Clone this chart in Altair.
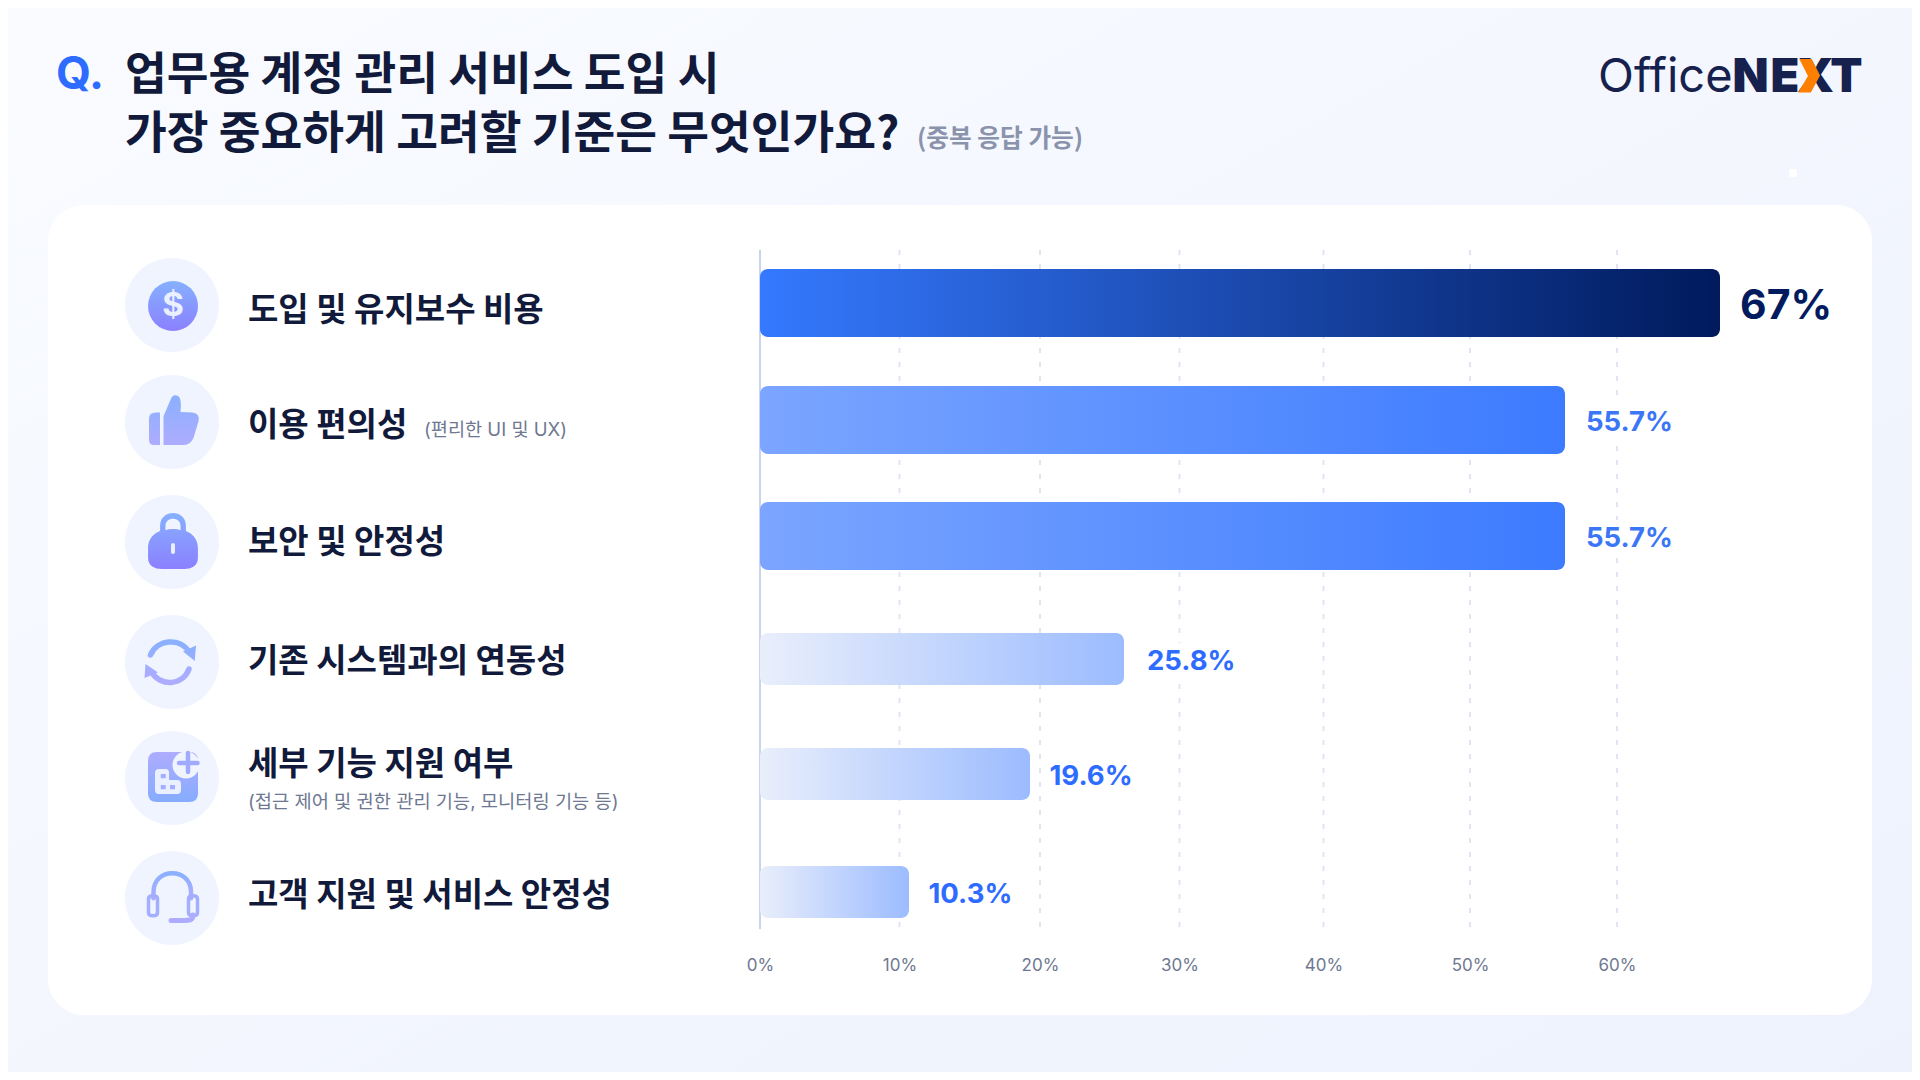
import altair as alt
import pandas as pd

# ---- values ----
categories = ["도입 및 유지보수 비용", "이용 편의성", "보안 및 안정성", "기존 시스템과의 연동성", "세부 기능 지원 여부", "고객 지원 및 서비스 안정성"]
values = [67, 55.7, 55.7, 25.8, 19.6, 10.3]
value_labels = ["67%", "55.7%", "55.7%", "25.8%", "19.6%", "10.3%"]
ticks = [0, 10, 20, 30, 40, 50, 60]

KR = "Noto Sans CJK KR"
LAT = "Inter, Noto Sans CJK KR"
NAVY = "#111A3A"
W, H = 1904, 1064
PX, PY = 760, 250          # page position of the plot origin
PW, PH = 960, 679

df = pd.DataFrame({"cat": categories, "value": values, "label": value_labels, "rank": range(1, 7)})
tick_df = pd.DataFrame({"tick": ticks})
ONE = alt.Data(values=[{"a": 1}])

x_scale = alt.Scale(
    domain=[0, 10, 10.3, 19.6, 20, 25.8, 30, 40, 50, 55.7, 60, 67],
    range=[0, 139.5, 149, 270, 280, 364, 419.5, 563.5, 710, 805, 857, 960],
    nice=False, zero=False, padding=0,
)
y_scale = alt.Scale(domain=[1, 2, 3, 4, 5, 6], range=[53, 170, 286, 409, 524, 642], nice=False, zero=False, padding=0)
x_axis = alt.Axis(
    values=ticks, grid=False, domain=False, ticks=False, zindex=1, labelPadding=28, title=None,
    labelFont="Inter", labelFontSize=17, labelColor="#6F7891", labelExpr="datum.value + '%'",
    labelOverlap=False, labelFlush=False,
)


def grad(c1, c2, horiz=False, diag=False):
    return alt.LinearGradient(
        gradient="linear",
        stops=[alt.GradientStop(offset=0, color=c1), alt.GradientStop(offset=1, color=c2)],
        x1=0, y1=0, x2=1 if (horiz or diag) else 0, y2=0 if horiz else 1,
    )


def text(s, x, y, size, color, weight="normal", font=KR, align="left", **kw):
    return alt.Chart(ONE).mark_text(
        text=s, font=font, fontSize=size, fontWeight=weight, color=color,
        align=align, baseline="middle", **kw
    ).encode(x=alt.value(x - PX), y=alt.value(y - PY))


def rect(x0, y0, x1, y1, fill, r=0):
    return alt.Chart(ONE).mark_rect(color=fill, cornerRadius=r).encode(
        x=alt.value(x0 - PX), x2=alt.value(x1 - PX), y=alt.value(y0 - PY), y2=alt.value(y1 - PY))


def disc(cx, cy, d, fill):
    return alt.Chart(ONE).mark_circle(color=fill, size=d * d, opacity=1).encode(
        x=alt.value(cx - PX), y=alt.value(cy - PY))


def solid(path, cx, cy, unit, fill):
    return alt.Chart(ONE).mark_point(shape=path, size=(2 * unit) ** 2, filled=True, fill=fill, strokeWidth=0, opacity=1).encode(
        x=alt.value(cx - PX), y=alt.value(cy - PY))


def line(path, cx, cy, unit, stroke, w):
    return alt.Chart(ONE).mark_point(shape=path, size=(2 * unit) ** 2, filled=False, stroke=stroke, strokeWidth=w,
                                     strokeCap="round", opacity=1).encode(
        x=alt.value(cx - PX), y=alt.value(cy - PY))


CIRC = "#EFF4FF"
G1 = grad("#86B0FF", "#8B80FF")
G2 = grad("#8AB0FF", "#AEACFF")
G3 = grad("#AEACFF", "#86ACFF")
LIGHT = "#EAF0FF"

bg = [
    rect(8, 8, 1912, 1072, grad("#F9FBFF", "#EEF2FD", diag=True)),
    rect(48, 205, 1872, 1015, "#FFFFFF", 36),
    rect(1789, 169, 1797, 177, "#FFFFFF", 2),
]

head = [
    text("Q.", 56, 75, 45, "#2E6BFF", "bold", LAT),
    text("업무용 계정 관리 서비스 도입 시", 125, 76, 45.4, NAVY, "bold"),
    text("가장 중요하게 고려할 기준은 무엇인가요?", 125, 135, 45.4, NAVY, "bold"),
    text("(중복 응답 가능)", 917, 140, 24.7, "#8A93AB", "bold"),
]

logo = [
    text("Office", 1598, 78, 47, "#16214D", "normal", "Inter"),
    text("N", 1750.5, 78, 47, "#16214D", 900, "Inter", align="center"),
    text("E", 1785, 78, 47, "#16214D", 900, "Inter", align="center"),
    text("X", 1815.5, 78, 47, "#16214D", 900, "Inter", align="center"),
    text("T", 1846.5, 78, 47, "#16214D", 900, "Inter", align="center"),
    solid("M-.57 -1 L.16 -1 L.65 -.03 L.11 .97 L-.63 .97 L-.06 0 Z", 1809, 76, 17, "#FF8000"),
]

circles = [disc(172, cy, 94, CIRC) for cy in [305, 422, 542, 662, 778, 898]]

thumb = ("M-1 -.05 Q-1 -.3 -.72 -.3 L-.56 -.3 L-.56 1 L-.8 1 Q-1 1 -1 .8 Z "
         "M-.42 -.15 L-.1 -.9 Q0 -1.06 .18 -.95 Q.32 -.85 .26 -.32 L.74 -.3 Q1.05 -.25 .98 .05 "
         "L.78 .72 Q.65 1 .4 1 L-.42 1 Z")
lock = ("M-.46 -.3 L-.46 -.55 C-.46 -1.15 .46 -1.15 .46 -.55 L.46 -.3 Z "
        "M0 -.45 C.5 -.45 .89 -.2 .89 .25 L.89 .6 C.89 .9 .65 1 .4 1 L-.4 1 C-.65 1 -.89 .9 -.89 .6 L-.89 .25 C-.89 -.2 -.5 -.45 0 -.45 Z")
lock_hole = "M-.27 -.38 C-.15 -.45 .15 -.45 .27 -.38 L.27 -.55 C.27 -.88 -.27 -.88 -.27 -.55 Z"
refresh = "M-.8 -.28 C-.55 -.9 .4 -1.0 .74 -.4 M.74 .28 C.5 .95 -.4 1.0 -.76 .4"
refresh_tips = "M.5 -.42 L1.02 -.66 L.97 -.04 Z M-.5 .42 L-1.04 .64 L-1.0 .08 Z"
square = "M-.65 -1 L.65 -1 Q1 -1 1 -.65 L1 .65 Q1 1 .65 1 L-.65 1 Q-1 1 -1 .65 L-1 -.65 Q-1 -1 -.65 -1 Z"
blocks = ("M-.56 -.32 L-.3 -.32 Q-.16 -.32 -.16 -.18 L-.16 .12 L.16 .12 Q.32 .12 .32 .28 L.32 .52 "
          "Q.32 .68 .16 .68 L-.56 .68 Q-.72 .68 -.72 .52 L-.72 -.16 Q-.72 -.32 -.56 -.32 Z")
cells = "M-.49 -.12 h.2 v.17 h-.2 Z M-.49 .32 h.2 v.17 h-.2 Z M-.12 .32 h.2 v.17 h-.2 Z"
plus = "M.6 -.96 L.6 -.2 M.24 -.56 L.98 -.56"
head_arc = "M-.78 .05 L-.78 -.2 C-.78 -1.2 .72 -1.2 .72 -.2 L.72 .05"
head_cups = "M-.98 .08 Q-.98 -.05 -.8 -.05 Q-.62 -.05 -.62 .08 L-.62 .62 Q-.62 .75 -.8 .75 Q-.98 .75 -.98 .62 Z M.62 .08 Q.62 -.05 .8 -.05 Q.98 -.05 .98 .08 L.98 .62 Q.98 .75 .8 .75 Q.62 .75 .62 .62 Z"
head_mic = "M.8 .72 C.8 .96 .6 .94 .35 .94 L-.08 .94"

icons = [
    disc(173, 306, 50, G1),
    text("$", 173, 306, 33, LIGHT, "bold", "Inter", align="center"),
    solid(thumb, 174, 420, 25, G2),
    solid(lock, 173, 541, 28, G1),
    solid(lock_hole, 173, 541, 28, CIRC),
    rect(171, 543, 175, 554, LIGHT, 2),
    line(refresh, 170.5, 662, 25, G2, 5.5),
    solid(refresh_tips, 170.5, 662, 25, G2),
    solid(square, 173, 777, 25, G3),
    disc(186, 765, 27, CIRC),
    line(plus, 173, 777, 25, "#A0ABFF", 4.5),
    solid(blocks, 173, 777, 25, LIGHT),
    solid(cells, 173, 777, 25, "#A3AEFF"),
    line(head_arc, 173, 897, 25, G2, 4.5),
    line(head_cups, 173, 897, 25, "#A3AEFF", 3.5),
    line(head_mic, 173, 897, 25, "#AEACFF", 5),
]

CAT_Y = [311, 426, 543, 662, 765, 896]
cat_text = [text(c, 248, y, 33, NAVY, "bold") for c, y in zip(categories, CAT_Y)]
cat_text += [
    text("(편리한 UI 및 UX)", 424, 430, 18.6, "#6E7891", "normal", LAT),
    text("(접근 제어 및 권한 관리 기능, 모니터링 기능 등)", 248, 802, 18.7, "#6E7891", "normal", LAT),
]

grid = alt.Chart(tick_df).mark_rule(color="#DFE5F3", strokeWidth=2, strokeDash=[5, 9]).encode(
    x=alt.X("tick:Q", scale=x_scale, axis=x_axis),
    y=alt.value(0), y2=alt.value(PH),
)
axis_line = alt.Chart(ONE).mark_rule(color="#C9D3EA", strokeWidth=2).encode(
    x=alt.value(0), y=alt.value(0), y2=alt.value(PH))


def bars(rows, height, c1, c2):
    return alt.Chart(df.iloc[rows]).mark_bar(
        orient="horizontal", height=height, cornerRadius=8, fill=grad(c1, c2, horiz=True)
    ).encode(
        x=alt.X("value:Q", scale=x_scale, axis=x_axis, stack=None),
        y=alt.Y("rank:Q", scale=y_scale, axis=None),
    )


bar_layers = [
    bars([0], 68, "#3579FF", "#001A5C"),
    bars([1, 2], 68, "#7BA5FF", "#3C7BFF"),
    bars([3, 4, 5], 52, "#E9EEFB", "#9CBCFF"),
]


def labels(rows, size, color, dx, dy, halo):
    base = alt.Chart(df.iloc[rows]).encode(
        x=alt.X("value:Q", scale=x_scale, axis=x_axis),
        y=alt.Y("rank:Q", scale=y_scale, axis=None),
        text="label:N",
    )
    kw = dict(font="Inter", fontSize=size, fontWeight="bold", align="left", baseline="middle", dx=dx, dy=dy)
    return [
        base.mark_text(color="#FFFFFF", stroke="#FFFFFF", strokeWidth=halo, **kw),
        base.mark_text(color=color, **kw),
    ]


label_layers = (
    labels([0], 41, "#021B5E", 20, 4, 0)
    + labels([1, 2], 27.5, "#3B76F6", 21, 3, 14)
    + labels([3], 27.5, "#2E6BFF", 23, 3, 14)
    + labels([4, 5], 27.5, "#2E6BFF", 19.5, 2.5, 14)
)

layers = bg + head + logo + circles + icons + cat_text + [grid, axis_line] + bar_layers + label_layers

chart = alt.layer(*layers).properties(
    width=PW, height=PH,
    padding={"left": PX - 8, "top": PY - 8, "right": W - (PX - 8) - PW, "bottom": H - (PY - 8) - PH},
    autosize=alt.AutoSizeParams(type="none"),
    background="#F4F7FE",
).configure_view(stroke=None)

chart.save("out.html", embed_options={"renderer": "svg", "actions": False})
